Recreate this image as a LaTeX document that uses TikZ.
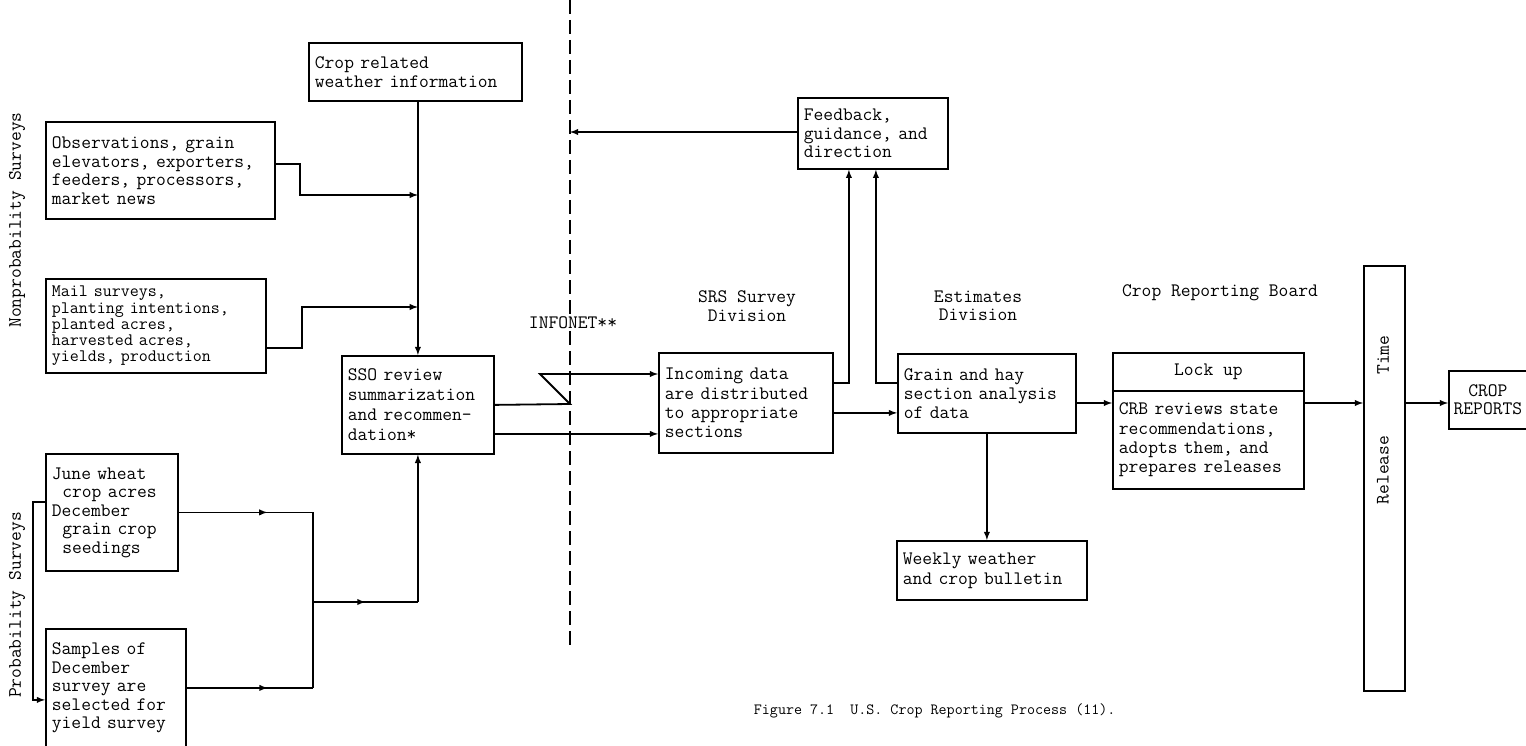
\documentclass[tikz,border=0pt]{standalone}
\usepackage{fontspec}
\usepackage{tikz}
\usetikzlibrary{decorations.markings}

\begin{document}
\begin{tikzpicture}[x=1pt,y=-1pt,>=latex,line width=1.8pt,
  box/.style={draw,anchor=north west,align=left,inner sep=6pt,
    font=\ttfamily\fontsize{19}{18.5}\selectfont},
  lbl/.style={inner sep=1pt,align=center,font=\ttfamily\fontsize{19}{18.5}\selectfont},
  midarr/.style={postaction={decorate},
    decoration={markings,mark=at position #1 with {\arrow{latex}}}}]
\useasboundingbox (0,0) rectangle (1526,746);

% left side: survey inputs
\node[box,minimum width=213,minimum height=58,text width=201] (weather) at (308,42)
  {Crop related\\weather information};
\node[box,minimum width=229,minimum height=97,text width=217] (obs) at (45,121)
  {Observations, grain\\elevators, exporters,\\feeders, processors,\\market news};
\node[box,minimum width=220,minimum height=94,text width=208,inner ysep=4pt,
  font=\ttfamily\fontsize{17.5}{16.2}\selectfont] (mail) at (45,278)
  {Mail surveys,\\planting intentions,\\planted acres,\\harvested acres,\\yields, production};
\node[box,minimum width=132,minimum height=117,text width=120] (june) at (45,453)
  {June wheat\\\hspace*{0.55em}crop acres\\December\\\hspace*{0.55em}grain crop\\\hspace*{0.55em}seedings};
\node[box,minimum width=140,minimum height=118,text width=128] (samples) at (45,628)
  {Samples of\\December\\survey are\\selected for\\yield survey};
\node[box,minimum width=152,minimum height=98,text width=140,
  font=\ttfamily\fontsize{19}{20}\selectfont] (sso) at (341,355)
  {SSO review\\summarization\\and recommen-\\dation*};

% right side: divisions and board
\node[box,minimum width=174,minimum height=100,text width=162,
  font=\ttfamily\fontsize{19}{19.2}\selectfont] (incoming) at (658,352)
  {Incoming data\\are distributed\\to appropriate\\sections};
\node[box,minimum width=150,minimum height=71,text width=138] (feedback) at (797,97)
  {Feedback,\\guidance, and\\direction};
\node[box,minimum width=178,minimum height=79,text width=166,
  font=\ttfamily\fontsize{19}{19.2}\selectfont] (grain) at (897,353)
  {Grain and hay\\section analysis\\of data};
\node[box,minimum width=190,minimum height=59,text width=178,
  font=\ttfamily\fontsize{19}{20}\selectfont] (weekly) at (896,540)
  {Weekly weather\\and crop bulletin};
\node[box,minimum width=191,minimum height=38,align=center] (crbhead) at (1112,352)
  {Lock up};
\node[box,minimum width=191,minimum height=98,text width=179,
  font=\ttfamily\fontsize{19}{19.4}\selectfont] (crbbody) at (1112,390)
  {CRB reviews state\\recommendations,\\adopts them, and\\prepares releases};
\node[box,minimum width=41,minimum height=425,inner sep=0pt] (release) at (1363,265) {};
\node[box,minimum width=78,minimum height=58,inner sep=4pt,align=center] (reports) at (1448,370)
  {CROP\\REPORTS};

% labels
\node[lbl,rotate=90] (nonprob) at (17,220) {Nonprobability Surveys};
\node[lbl,rotate=90] (prob) at (17,605) {Probability Surveys};
\node[lbl] (infonet) at (573,323) {INFONET**};
\node[lbl] (srs) at (747,306) {SRS Survey\\Division};
\node[lbl] (est) at (978,306) {Estimates\\Division};
\node[lbl] (crbl) at (1220,293) {Crop Reporting Board};
\node[lbl,rotate=90] (reltxt) at (1383,470) {Release};
\node[lbl,rotate=90] (timetxt) at (1383,355) {Time};
\node[lbl,anchor=west,font=\ttfamily\fontsize{15.6}{18}\selectfont] (caption) at (752,711)
  {Figure 7.1~~U.S. Crop Reporting Process (11).};

% boundary line for INFONET
\coordinate (dtop) at (570,0);
\coordinate (dbot) at (570,650);
\draw[line width=2.2pt,dash pattern=on 14pt off 6pt] (dtop) -- (dtop |- infonet.north);
\draw[line width=2.2pt,dash pattern=on 14pt off 6pt] (dtop |- infonet.south) -- (dbot);

% nonprobability inputs
\coordinate (ob) at (300,195);
\coordinate (mb) at (302,307);
\draw[->] (weather.south -| sso.north) -- (sso.north);
\draw[->] ([yshift=6pt]obs.east) -| (ob) -- (ob -| sso.north);
\draw[->] ([yshift=-22pt]mail.east) -| (mb) -- (mb -| sso.north);

% probability inputs
\coordinate (pv) at (313,602);
\coordinate (brk) at (33,600);
\draw[midarr=0.66] (june.east) -- (june.east -| pv);
\draw[midarr=0.64] (samples.east) -- (samples.east -| pv);
\draw (june.east -| pv) -- (samples.east -| pv);
\draw[midarr=0.5] (pv) -- (pv -| sso.south);
\draw[->] (pv -| sso.south) -- (sso.south);
\draw[->] ([yshift=10.5pt]june.west) -| (brk) |- ([yshift=-12pt]samples.west);

% INFONET link
\coordinate (za) at (570,404);
\coordinate (zb) at (540,374);
\draw[->] (sso.east) -- (za) -- (zb) -- (zb -| incoming.west);
\draw[->] ([yshift=-29pt]sso.east) -- ([yshift=-29pt]sso.east -| incoming.west);

% feedback loop
\coordinate (fbhit) at (570,132);
\draw[->] ([yshift=20pt]incoming.east) -| ([xshift=-24pt]feedback.south);
\draw[->] ([yshift=10.5pt]grain.west) -| ([xshift=3pt]feedback.south);
\draw[->] (fbhit -| feedback.west) -- (fbhit);

% estimates to board and release
\coordinate (rline) at (1340,403);
\draw[->] ([yshift=-10pt]incoming.east) -- ([yshift=-10pt]incoming.east -| grain.west);
\draw[->] (grain.south) -- (grain.south |- weekly.north);
\draw[->] (grain.east |- rline) -- (crbbody.west |- rline);
\draw[->] (crbbody.east |- rline) -- (release.west |- rline);
\draw[->] (release.east |- rline) -- (reports.west |- rline);
\end{tikzpicture}
\end{document}
